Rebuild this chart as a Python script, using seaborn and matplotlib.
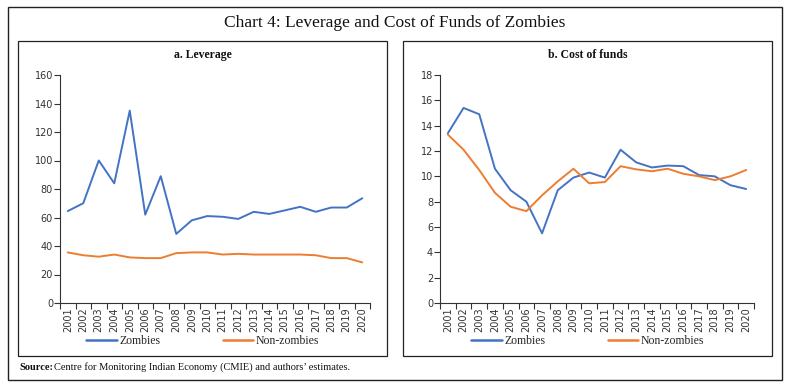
import pandas as pd
import matplotlib.pyplot as plt
import seaborn as sns
from matplotlib.patches import Rectangle
from matplotlib.lines import Line2D

years = list(range(2001, 2021))

# a. Leverage
lev_zombies = [64.5, 70, 100, 84, 135, 62, 89, 48.5, 58, 61,
               60.5, 59, 64, 62.5, 65, 67.5, 64, 67, 67, 73.5]
lev_nonzombies = [35.5, 33.5, 32.5, 34, 32, 31.5, 31.5, 35, 35.5, 35.5,
                  34, 34.5, 34, 34, 34, 34, 33.5, 31.5, 31.5, 28.5]

# b. Cost of funds
cof_zombies = [13.4, 15.4, 14.9, 10.6, 8.9, 8.0, 5.5, 8.9, 9.9, 10.3,
               9.9, 12.1, 11.1, 10.7, 10.85, 10.8, 10.1, 10.0, 9.3, 9.0]
cof_nonzombies = [13.3, 12.1, 10.5, 8.7, 7.6, 7.25, 8.5, 9.6, 10.6, 9.45,
                  9.55, 10.8, 10.55, 10.4, 10.6, 10.2, 10.0, 9.7, 10.0, 10.5]

series_names = ['Zombies', 'Non-zombies']
colors = {'Zombies': '#4472C4', 'Non-zombies': '#ED7D31'}

sns.set_style('white', {'xtick.bottom': True, 'ytick.left': True})
serif = ['Liberation Serif', 'DejaVu Serif']
sans = ['DejaVu Sans']

W, H = 790, 390
fig = plt.figure(figsize=(W / 100, H / 100), dpi=100)


def fx(px):
    return px / W


def fy(py):
    return 1 - py / H


# outer frame and panel frames
fig.patches.append(Rectangle((fx(8), fy(380)), fx(774), (380 - 7) / H, transform=fig.transFigure,
                             fill=False, edgecolor='#222222', linewidth=1.0))
for left, right in [(18, 387), (403, 772)]:
    fig.patches.append(Rectangle((fx(left), fy(356)), fx(right - left), (356 - 41) / H,
                                 transform=fig.transFigure, fill=False,
                                 edgecolor='#222222', linewidth=0.9))

fig.text(fx(395), fy(23), 'Chart 4: Leverage and Cost of Funds of Zombies', ha='center', va='center',
         fontsize=12.5, family=serif, color='#111111')

fig.text(fx(19), fy(367), 'Source:', ha='left', va='center', fontsize=7.5, family=serif,
         fontweight='bold', color='#111111')
fig.text(fx(54), fy(367), 'Centre for Monitoring Indian Economy (CMIE) and authors\u2019 estimates.',
         ha='left', va='center', fontsize=7.5, family=serif, color='#111111')

panels = [
    dict(title='a. Leverage', zombies=lev_zombies, nonzombies=lev_nonzombies,
         ax_px=(60, 370), ymax=160, ystep=20, box=(18, 387)),
    dict(title='b. Cost of funds', zombies=cof_zombies, nonzombies=cof_nonzombies,
         ax_px=(440, 754), ymax=18, ystep=2, box=(403, 772)),
]

for p in panels:
    x0, x1 = p['ax_px']
    ax = fig.add_axes([fx(x0), fy(303), fx(x1 - x0), (303 - 75) / H])
    df = pd.DataFrame({
        'year': years * 2,
        'value': p['zombies'] + p['nonzombies'],
        'series': ['Zombies'] * len(years) + ['Non-zombies'] * len(years),
    })
    sns.lineplot(data=df, x='year', y='value', hue='series', hue_order=series_names,
                 palette=colors, linewidth=1.4, ax=ax, legend=False)
    ax.set_xlim(2000.5, 2020.5)
    ax.set_ylim(0, p['ymax'])
    ax.set_yticks(range(0, p['ymax'] + 1, p['ystep']))
    ax.set_xticks(years)
    ax.set_xticklabels([str(y) for y in years], rotation=90, fontsize=7, family=sans, color='#333333')
    ax.set_xticks([y + 0.5 for y in [2000] + years], minor=True)
    ax.tick_params(axis='x', which='major', bottom=True, length=0, pad=3)
    ax.tick_params(axis='x', which='minor', bottom=True, length=4, width=0.8, color='#333333',
                   direction='out')
    ax.tick_params(axis='y', left=True, length=4, width=0.8, color='#333333', direction='out', pad=1,
                   labelsize=7, labelcolor='#333333')
    for lab in ax.get_yticklabels():
        lab.set_family(sans)
    ax.set_xlabel('')
    ax.set_ylabel('')
    for side in ['top', 'right']:
        ax.spines[side].set_visible(False)
    for side in ['left', 'bottom']:
        ax.spines[side].set_color('#333333')
        ax.spines[side].set_linewidth(0.8)
    ax.grid(False)

    bl, br = p['box']
    fig.text(fx((bl + br) / 2), fy(55), p['title'], ha='center', va='center', fontsize=8.5,
             family=serif, fontweight='bold', color='#111111')

    handles = [Line2D([], [], color=colors[s], linewidth=1.8) for s in series_names]
    fig.legend(handles, series_names, loc='center', ncol=2,
               bbox_to_anchor=(fx((bl + br) / 2), fy(341)), frameon=False,
               handlelength=2.6, handletextpad=0.2, columnspacing=5.3,
               prop={'family': serif, 'size': 8.5})

fig.savefig('out.png', dpi=100)
